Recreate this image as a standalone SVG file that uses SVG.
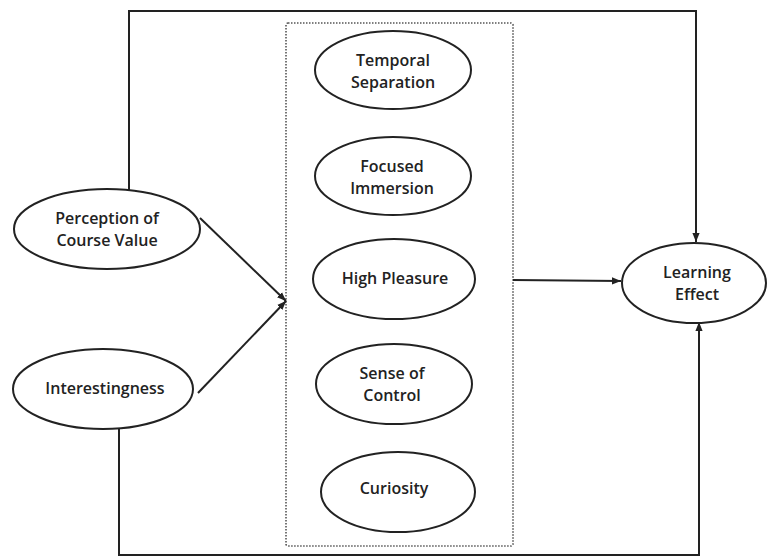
<svg xmlns="http://www.w3.org/2000/svg" width="767" height="559" viewBox="0 0 767 559">
<style>
.node ellipse{fill:#fff;stroke:#222;stroke-width:2}
.node text{font-family:"Open Sans","Noto Sans","Liberation Sans",sans-serif;font-size:16px;font-weight:600;fill:#222;text-anchor:middle}
.conn{fill:none;stroke:#222;stroke-width:2}
.box{fill:none;stroke:#555;stroke-width:1.6;stroke-dasharray:1.5 1.5}
</style>
<defs>
<marker id="arr" viewBox="0 0 10 10" refX="10" refY="5" markerWidth="9" markerHeight="9" markerUnits="userSpaceOnUse" orient="auto">
<path d="M0,1 L10,5 L0,9 z" fill="#222"/>
</marker>
</defs>
<rect width="767" height="559" fill="#fff"/>
<rect class="box" x="286" y="23" width="227" height="523" rx="2"/>
<g id="connectors">
<path class="conn" d="M129,191 V11 H696 V242" marker-end="url(#arr)"/>
<path class="conn" d="M200,218 L286,301" marker-end="url(#arr)"/>
<path class="conn" d="M198,393 L286,301" marker-end="url(#arr)"/>
<path class="conn" d="M513,280 L621,281" marker-end="url(#arr)"/>
<path class="conn" d="M119,428 V555 H699 V322" marker-end="url(#arr)"/>
</g>
<g id="perception" class="node">
<ellipse cx="107" cy="229" rx="93" ry="40"/>
<text x="107" y="224">Perception of</text>
<text x="107" y="246">Course Value</text>
</g>
<g id="interestingness" class="node">
<ellipse cx="103" cy="389" rx="90" ry="40"/>
<text x="105" y="394">Interestingness</text>
</g>
<g id="temporal" class="node">
<ellipse cx="393" cy="70" rx="78" ry="39"/>
<text x="393" y="66">Temporal</text>
<text x="393" y="88">Separation</text>
</g>
<g id="focused" class="node">
<ellipse cx="393" cy="176" rx="78" ry="39"/>
<text x="392" y="172">Focused</text>
<text x="392" y="194">Immersion</text>
</g>
<g id="pleasure" class="node">
<ellipse cx="394" cy="279" rx="81" ry="40"/>
<text x="395" y="284">High Pleasure</text>
</g>
<g id="control" class="node">
<ellipse cx="394" cy="384" rx="78" ry="40"/>
<text x="392" y="379">Sense of</text>
<text x="392" y="401">Control</text>
</g>
<g id="curiosity" class="node">
<ellipse cx="398" cy="492" rx="77" ry="40"/>
<text x="394" y="494">Curiosity</text>
</g>
<g id="learning" class="node">
<ellipse cx="694" cy="283" rx="72" ry="40"/>
<text x="697" y="278">Learning</text>
<text x="697" y="300">Effect</text>
</g>
</svg>
